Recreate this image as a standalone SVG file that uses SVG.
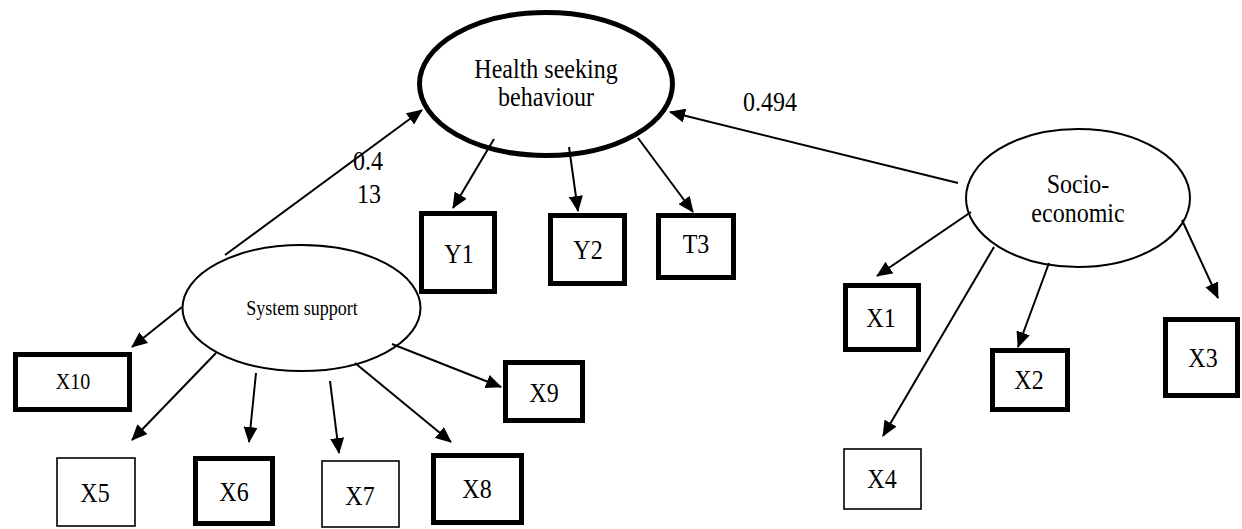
<svg xmlns="http://www.w3.org/2000/svg" width="1242" height="529" viewBox="0 0 1242 529">
<style>
text{font-family:"Liberation Serif","Times New Roman",serif;fill:#000;text-anchor:middle}
.lbl{font-size:24px}
.thick{fill:#fff;stroke:#000;stroke-width:5}
.thin{fill:#fff;stroke:#000;stroke-width:1.6}
.conn line{stroke:#000;stroke-width:2;marker-end:url(#ah)}
</style>
<defs>
<marker id="ah" markerUnits="userSpaceOnUse" markerWidth="16" markerHeight="14" refX="15" refY="7" orient="auto">
<path d="M0,0 L16,7 L0,14 z" fill="#000"/>
</marker>
</defs>
<rect width="1242" height="529" fill="#fff"/>
<g id="hsb">
<ellipse cx="546" cy="84" rx="126.5" ry="71.5" fill="#fff" stroke="#000" stroke-width="5"/>
<text class="lbl" transform="translate(546 78) scale(1 1.15)">Health seeking</text>
<text class="lbl" transform="translate(546 106) scale(1 1.15)">behaviour</text>
</g>
<g id="ss">
<ellipse cx="301.5" cy="308" rx="119" ry="63" fill="#fff" stroke="#000" stroke-width="2"/>
<text font-size="18" transform="translate(302 315) scale(1 1.15)">System support</text>
</g>
<g id="se">
<ellipse cx="1078" cy="198" rx="112" ry="69" fill="#fff" stroke="#000" stroke-width="2"/>
<text class="lbl" transform="translate(1078 193) scale(1 1.15)">Socio-</text>
<text class="lbl" transform="translate(1078 222) scale(1 1.15)">economic</text>
</g>
<g id="y1"><rect class="thick" x="421.5" y="213.5" width="73" height="78"/><text class="lbl" transform="translate(459 263) scale(1 1.15)">Y1</text></g>
<g id="y2"><rect class="thick" x="550.5" y="215.5" width="74" height="68"/><text class="lbl" transform="translate(588 259) scale(1 1.15)">Y2</text></g>
<g id="t3"><rect class="thick" x="658.5" y="215.5" width="75" height="62"/><text class="lbl" transform="translate(696 253) scale(1 1.15)">T3</text></g>
<g id="x10"><rect class="thick" x="15.5" y="354.5" width="114" height="55"/><text font-size="20" transform="translate(73 389) scale(1 1.15)">X10</text></g>
<g id="x5"><rect class="thin" x="57" y="458" width="78" height="68"/><text class="lbl" transform="translate(95 502) scale(1 1.15)">X5</text></g>
<g id="x6"><rect class="thick" x="195.5" y="458.5" width="77" height="65"/><text class="lbl" transform="translate(234 501) scale(1 1.15)">X6</text></g>
<g id="x7"><rect class="thin" x="322" y="461" width="77" height="66"/><text class="lbl" transform="translate(360 505) scale(1 1.15)">X7</text></g>
<g id="x8"><rect class="thick" x="433.5" y="455.5" width="88" height="67"/><text class="lbl" transform="translate(477 498) scale(1 1.15)">X8</text></g>
<g id="x9"><rect class="thick" x="505.5" y="362.5" width="77" height="58"/><text class="lbl" transform="translate(544 402) scale(1 1.15)">X9</text></g>
<g id="x1"><rect class="thick" x="845.5" y="285.5" width="73" height="64"/><text class="lbl" transform="translate(881 327) scale(1 1.15)">X1</text></g>
<g id="x2"><rect class="thick" x="992.5" y="350.5" width="75" height="59"/><text class="lbl" transform="translate(1029 389) scale(1 1.15)">X2</text></g>
<g id="x3"><rect class="thick" x="1165.5" y="319.5" width="72" height="76"/><text class="lbl" transform="translate(1203 367) scale(1 1.15)">X3</text></g>
<g id="x4"><rect class="thin" x="844" y="449" width="77" height="60"/><text class="lbl" transform="translate(882 488) scale(1 1.15)">X4</text></g>
<g id="connectors" class="conn">
<line x1="494" y1="139" x2="453" y2="208"/>
<line x1="569" y1="147" x2="578" y2="211"/>
<line x1="638" y1="138" x2="693" y2="212"/>
<line x1="225" y1="255" x2="422" y2="110"/>
<line x1="958" y1="183" x2="670" y2="112"/>
<line x1="182" y1="307" x2="132" y2="347"/>
<line x1="216" y1="353" x2="132" y2="440"/>
<line x1="256" y1="373" x2="249" y2="442"/>
<line x1="330" y1="381" x2="339" y2="453"/>
<line x1="355" y1="363" x2="451" y2="442"/>
<line x1="392" y1="344" x2="501" y2="387"/>
<line x1="971" y1="212" x2="877" y2="276"/>
<line x1="1049" y1="263" x2="1018" y2="347"/>
<line x1="1182" y1="220" x2="1218" y2="298"/>
<line x1="994" y1="247" x2="883" y2="436"/>
</g>
<g id="labels">
<text class="lbl" transform="translate(770 111) scale(1 1.15)">0.494</text>
<text class="lbl" transform="translate(368 170) scale(1 1.15)">0.4</text>
<text class="lbl" transform="translate(369 203) scale(1 1.15)">13</text>
</g>
</svg>
